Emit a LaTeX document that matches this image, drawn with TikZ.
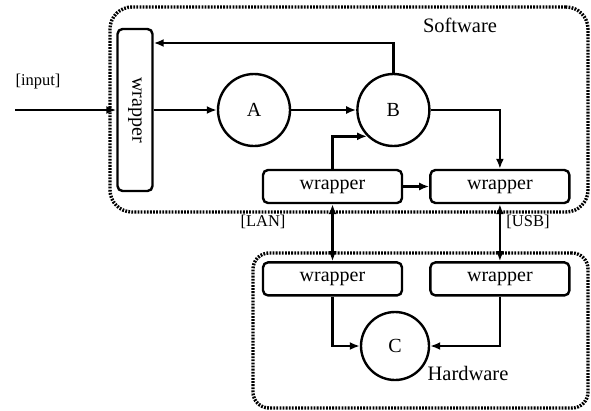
\documentclass[tikz,border=0pt]{standalone}
\usepackage{fontspec}
\setmainfont{Liberation Serif}
\usepackage{tikz}
\usetikzlibrary{positioning,arrows.meta}

\begin{document}
\begin{tikzpicture}[x=1pt, y=-1pt, >={Latex[length=10pt,width=8pt]}]

\tikzstyle{every node}=[font=\fontsize{20}{22}\selectfont]
\tikzstyle{blk}=[draw, line width=2.4pt, inner sep=0pt]
\tikzstyle{wrap}=[blk, rounded corners=5pt, minimum width=139pt, minimum height=33pt]
\tikzstyle{proc}=[blk, circle, minimum size=72pt]
\tikzstyle{zone}=[draw, line width=3.4pt, dash pattern=on 1.8pt off 1.3pt, rounded corners=22pt]
\tikzstyle{conn}=[line width=2.4pt]
\tikzstyle{lbl}=[font=\fontsize{16.5}{18}\selectfont, inner sep=0pt]
\tikzstyle{title}=[font=\fontsize{20.5}{22}\selectfont, inner sep=0pt]

\useasboundingbox (0,0) rectangle (591,410);

% zones %
\node[zone, minimum width=478pt, minimum height=205pt] (soft) at (349,109.5) {};
\node[zone, rounded corners=16pt, minimum width=335pt, minimum height=155pt] (hard) at (420.5,330.5) {};
\node[title] (softname) at (460,25) {Software};
\node[title] (hardname) at (468,373) {Hardware};

% nodes %
\node[blk, rounded corners=5pt, rotate=-90, minimum width=162pt, minimum height=35pt] (lwrap) at (135,110) {wrapper};
\node[proc] (a) at (254,110) {A};
\node[proc, right=65pt of a] (b) {B};
\node[wrap] (swl) at (332.5,186.5) {wrapper};
\node[wrap, right=26pt of swl] (swu) {wrapper};
\node[wrap, below=57pt of swl] (hwl) {wrapper};
\node[wrap, below=57pt of swu] (hwu) {wrapper};
\node[proc, minimum size=68pt] (c) at (395,346) {C};

% labels %
\coordinate (in) at (15,110);
\node[lbl] (inlbl) at (38,82) {[input]};
\node[lbl] (lan) at (263,222) {[LAN]};
\node[lbl] (usb) at (528,222) {[USB]};

% edges %
\draw[->, conn] (in) -- (lwrap.south);
\draw[->, conn] (lwrap.north) -- (a);
\draw[->, conn] (a) -- (b);
\draw[->, conn] (b.north) |- (lwrap.north |- 0,43);
\draw[->, conn] (b) -| (swu);
\draw[->, conn] (swl) -- (swu);
\draw[->, conn] (swl) |- (b.south west);
\draw[<->, conn] (swl) -- (hwl);
\draw[<->, conn] (swu) -- (hwu);
\draw[->, conn] (hwl) |- (c);
\draw[->, conn] (hwu) |- (c);

\end{tikzpicture}
\end{document}
